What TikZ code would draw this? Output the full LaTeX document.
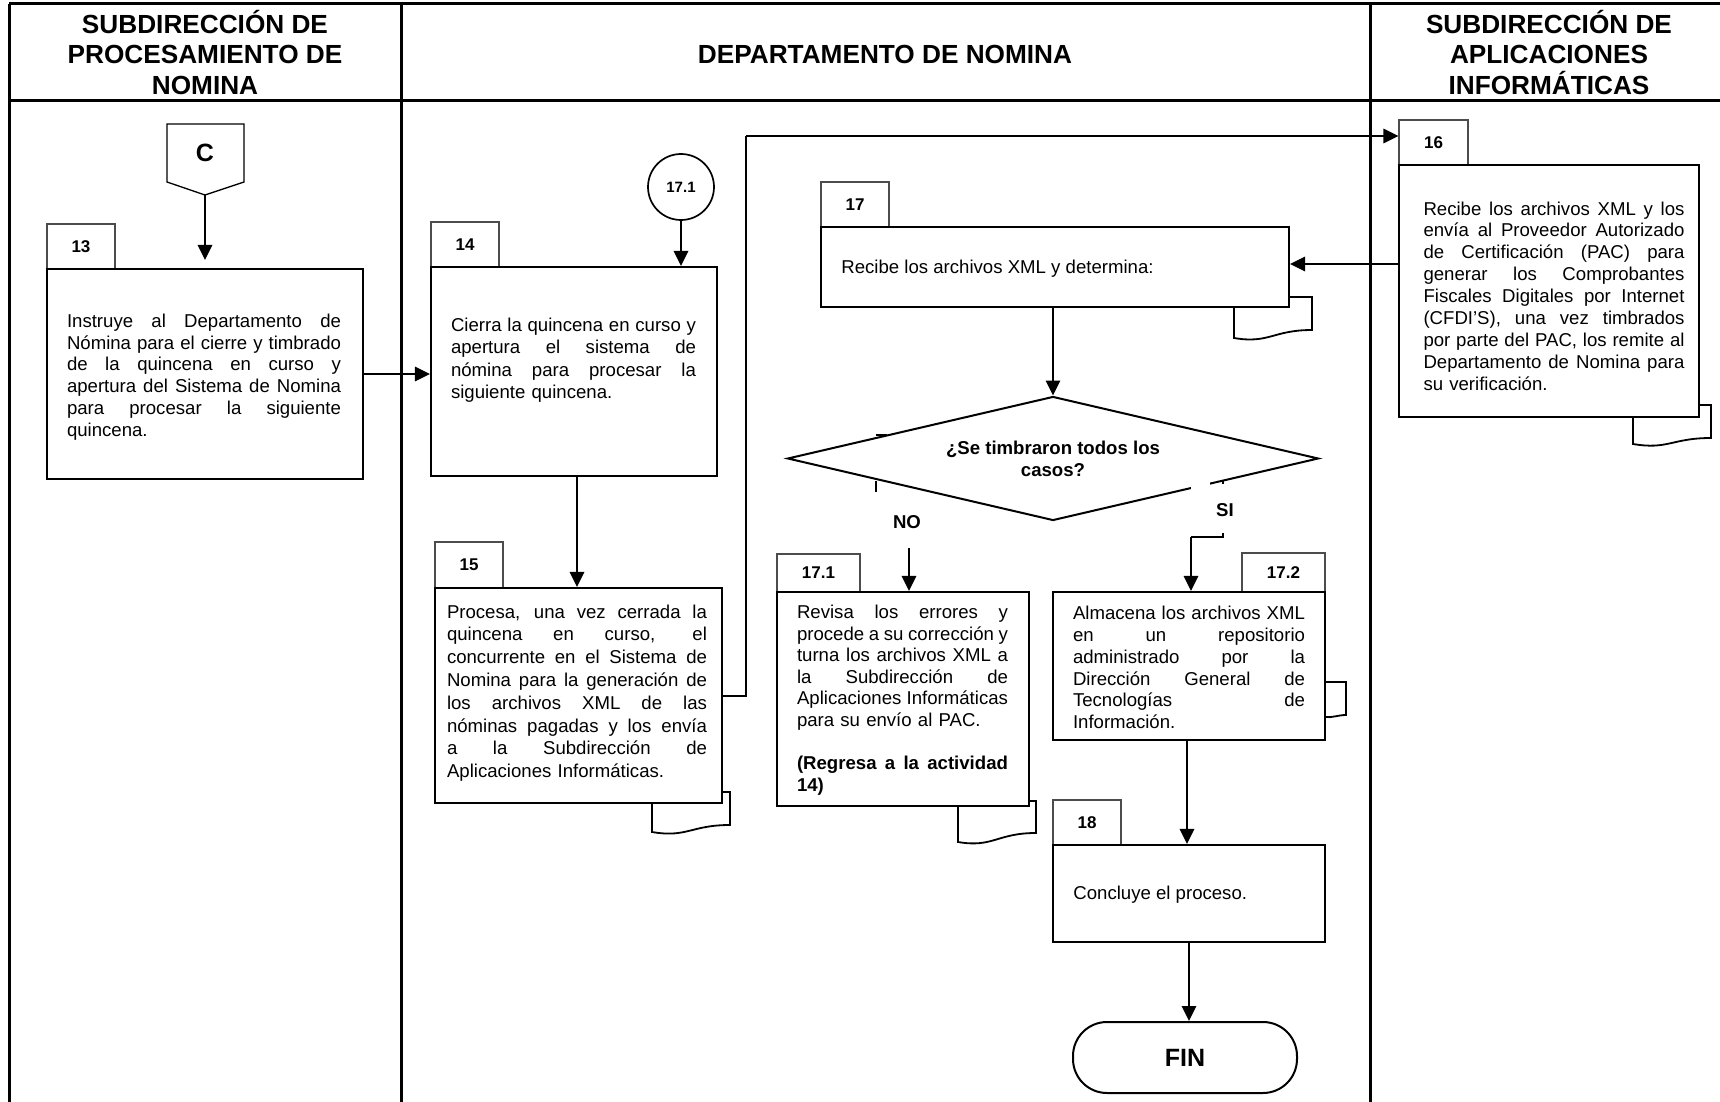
\documentclass[tikz,border=0pt]{standalone}
\usepackage{fontspec}
\setmainfont{Liberation Sans}
\usetikzlibrary{arrows.meta,shapes.geometric}

% one justified line (spaces stretch to the full width) and one ragged last line
\newcommand\jline[1]{\hbox to\linewidth{\spaceskip=\fontdimen2\font plus 1fil minus \fontdimen4\font\relax #1}}
\newcommand\lline[1]{\hbox to\linewidth{#1\hfil}}

\tikzset{
  frame/.style={line width=1.5pt},
  box/.style={draw, line width=1.1pt, fill=white, inner sep=0pt},
  tab/.style={draw=black!70, line width=0.6pt, fill=white, inner sep=0pt,
              font=\bfseries\fontsize{8.5}{10}\selectfont},
  txt/.style={inner sep=0pt, font=\fontsize{9.3}{#1}\selectfont},
  txt/.default=10.9,
  arr/.style={line width=1pt, -{Triangle[length=7.5pt,width=7.2pt]}},
  ln/.style={line width=1pt},
  tail/.style={line width=0.9pt},
  hdr/.style={font=\bfseries\fontsize{13.1}{15.4}\selectfont, align=center},
  lbl/.style={font=\bfseries\fontsize{9.3}{11}\selectfont, inner sep=0pt},
}

\begin{document}
\begin{tikzpicture}[x=0.5pt,y=-0.5pt]
\useasboundingbox (0,0) rectangle (1720,1102);

% ---------- swimlanes ----------
\draw[frame] (9,4) -- (1720,4);
\draw[frame] (9,101) -- (1720,101);
\draw[frame] (9,4) -- (9,1102);
\draw[frame] (401,4) -- (401,1102);
\draw[frame] (1370,4) -- (1370,1102);

\node[hdr] (h1) at (205,52.5) {SUBDIRECCIÓN DE\\PROCESAMIENTO DE\\NOMINA};
\node[hdr] (h2) at (885,54) {DEPARTAMENTO DE NOMINA};
\node[hdr] (h3) at (1549,52.5) {SUBDIRECCIÓN DE\\APLICACIONES\\INFORMÁTICAS};

% ---------- document tails behind the boxes ----------
\draw[tail] (722,792) -- (730,792) -- (730,825) .. controls (691,825) and (687,838) .. (652,832) -- (652,803);
\draw[tail] (1699,405) -- (1711,405) -- (1711,438) .. controls (1672,438) and (1668,450) .. (1633,444) -- (1633,417);
\draw[tail] (1289,297) -- (1312,297) -- (1312,330) .. controls (1273,330) and (1269,344) .. (1234,338) -- (1234,307);
\draw[tail] (1029,801) -- (1036,801) -- (1036,833) .. controls (997,833) and (993,848) .. (958,842) -- (958,806);
\draw[tail] (1325,682) -- (1346,682) -- (1346,715) .. controls (1338,715) and (1332,718) .. (1325,717);

% ---------- off-page connector C ----------
\draw[line width=0.65pt] (167,124) -- (244,124) -- (244,182) -- (205,195) -- (167,182) -- cycle;
\node[font=\bfseries\fontsize{12.5}{14}\selectfont] (cC) at (205,153) {C};
\coordinate (Cpt) at (205,195);

% ---------- activity 13 ----------
\node[tab, minimum width=34pt, minimum height=22.5pt] (t13) at (81,246.5) {13};
\node[box, minimum width=158pt, minimum height=105pt] (b13) at (205,374) {};
\node[txt=10.85, text width=137pt] (x13) at (204,377) {%
\jline{Instruye al Departamento de}
\jline{Nómina para el cierre y timbrado}
\jline{de la quincena en curso y}
\jline{apertura del Sistema de Nomina}
\jline{para procesar la siguiente}
\lline{quincena.}};

% ---------- activity 14 ----------
\node[draw, circle, line width=0.85pt, minimum size=33pt, inner sep=0pt,
      font=\bfseries\fontsize{7.5}{9}\selectfont] (c171) at (681,187) {17.1};
\node[tab, minimum width=34pt, minimum height=22.5pt] (t14) at (465,244.5) {14};
\node[box, minimum width=143pt, minimum height=104.5pt] (b14) at (574,371.5) {};
\node[txt=11.2, text width=122.5pt] (x14) at (573.5,360) {%
\jline{Cierra la quincena en curso y}
\jline{apertura el sistema de}
\jline{nómina para procesar la}
\lline{siguiente quincena.}};

% ---------- activity 15 ----------
\node[tab, minimum width=34pt, minimum height=23pt] (t15) at (469,565) {15};
\node[box, minimum width=143.5pt, minimum height=107.5pt] (b15) at (578.5,695.5) {};
\node[txt=11.4, text width=130pt] (x15) at (577,693) {%
\jline{Procesa, una vez cerrada la}
\jline{quincena en curso, el}
\jline{concurrente en el Sistema de}
\jline{Nomina para la generación de}
\jline{los archivos XML de las}
\jline{nóminas pagadas y los envía}
\jline{a la Subdirección de}
\lline{Aplicaciones Informáticas.}};

% ---------- activity 16 ----------
\node[tab, minimum width=34.5pt, minimum height=22.5pt] (t16) at (1433.5,142.5) {16};
\node[box, minimum width=150pt, minimum height=126pt] (b16) at (1549,291) {};
\node[txt=10.95, text width=130.5pt] (x16) at (1554,296) {%
\jline{Recibe los archivos XML y los}
\jline{envía al Proveedor Autorizado}
\jline{de Certificación (PAC) para}
\jline{generar los Comprobantes}
\jline{Fiscales Digitales por Internet}
\jline{(CFDI’S), una vez timbrados}
\jline{por parte del PAC, los remite al}
\jline{Departamento de Nomina para}
\lline{su verificación.}};

% ---------- activity 17 ----------
\node[tab, minimum width=34pt, minimum height=22.5pt] (t17) at (855,204.5) {17};
\node[box, minimum width=234pt, minimum height=40pt] (b17) at (1055,267) {};
\node[txt, anchor=west] (x17) at (841,269) {Recibe los archivos XML y determina:};

% ---------- decision ----------
\node[draw, diamond, aspect=4.3, line width=1pt, fill=white, inner sep=0pt,
      minimum width=265.5pt, minimum height=62pt, align=center,
      font=\bfseries\fontsize{9.3}{11}\selectfont] (dia) at (1053,458.5)
      {¿Se timbraron todos los\\casos?};
\draw[line width=0.9pt] (876,435) -- (887,435);
\draw[line width=0.9pt] (876,481) -- (876,492);
\fill[white] (1191,481) rectangle (1210,490);
\draw[line width=0.9pt] (1223,480) -- (1223,484);
\node[lbl] (no) at (907,522) {NO};
\node[lbl] (si) at (1225,510) {SI};
\coordinate (no1) at (909,548);
\coordinate (si1) at (1223,533);
\coordinate (si2) at (1223,537);
\coordinate (si3) at (1191,537);

% ---------- activity 17.1 ----------
\node[tab, minimum width=41.5pt, minimum height=19pt] (t171) at (818.5,573) {17.1};
\node[box, minimum width=126pt, minimum height=107pt] (b171) at (903,699) {};
\node[txt=10.8, text width=105.5pt] (x171) at (902.5,700) {%
\jline{Revisa los errores y}
\jline{procede a su corrección y}
\jline{turna los archivos XML a}
\jline{la Subdirección de}
\jline{Aplicaciones Informáticas}
\lline{para su envío al PAC.}
\hbox{}
\jline{\bfseries (Regresa a la actividad}
\lline{\bfseries 14)}};

% ---------- activity 17.2 ----------
\node[tab, minimum width=41.5pt, minimum height=19.5pt] (t172) at (1283.5,572.5) {17.2};
\node[box, minimum width=136pt, minimum height=74pt] (b172) at (1189,666) {};
\node[txt=10.9, text width=116pt] (x172) at (1189,667.5) {%
\jline{Almacena los archivos XML}
\jline{en un repositorio}
\jline{administrado por la}
\jline{Dirección General de}
\jline{Tecnologías de}
\lline{Información.}};

% ---------- activity 18 and end ----------
\node[tab, minimum width=34pt, minimum height=22.5pt] (t18) at (1087,822.5) {18};
\node[box, minimum width=136pt, minimum height=48.5pt] (b18) at (1189,893.5) {};
\node[txt, anchor=west] (x18) at (1073,895) {Concluye el proceso.};
\node[draw, line width=1pt, rounded corners=17pt, minimum width=112pt, minimum height=35.5pt,
      inner sep=0pt, font=\bfseries\fontsize{12.5}{14}\selectfont] (fin) at (1185,1057.5) {FIN};

% ---------- connectors ----------
\draw[arr, shorten >=4pt] (Cpt) -- (b13.north -| Cpt);
\draw[arr] (b13.east) -- (b13.east -| b14.west);
\draw[arr] (c171.south) -- (c171.south |- b14.north);
\draw[arr] ([xshift=1.5pt]b14.south) -- ([xshift=1.5pt]b14.south |- b15.north);
\coordinate (k1) at (746,136);
\draw[ln] (b15.east) -| (k1);
\draw[arr] (k1) -- (k1 -| t16.west);
\draw[arr] ([yshift=1.5pt]b17.east -| b16.west) -- ([yshift=1.5pt]b17.east);
\draw[arr] (b17.south -| dia.north) -- (dia.north);
\draw[arr] (no1) -- (no1 |- b171.north);
\draw[ln] (si1) -- (si2) -- (si3);
\draw[arr] (si3) -- (si3 |- b172.north);
\draw[arr] ([xshift=-1pt]b172.south) -- ([xshift=-1pt]b172.south |- b18.north);
\draw[arr] (b18.south) -- (b18.south |- fin.north);
\end{tikzpicture}
\end{document}
